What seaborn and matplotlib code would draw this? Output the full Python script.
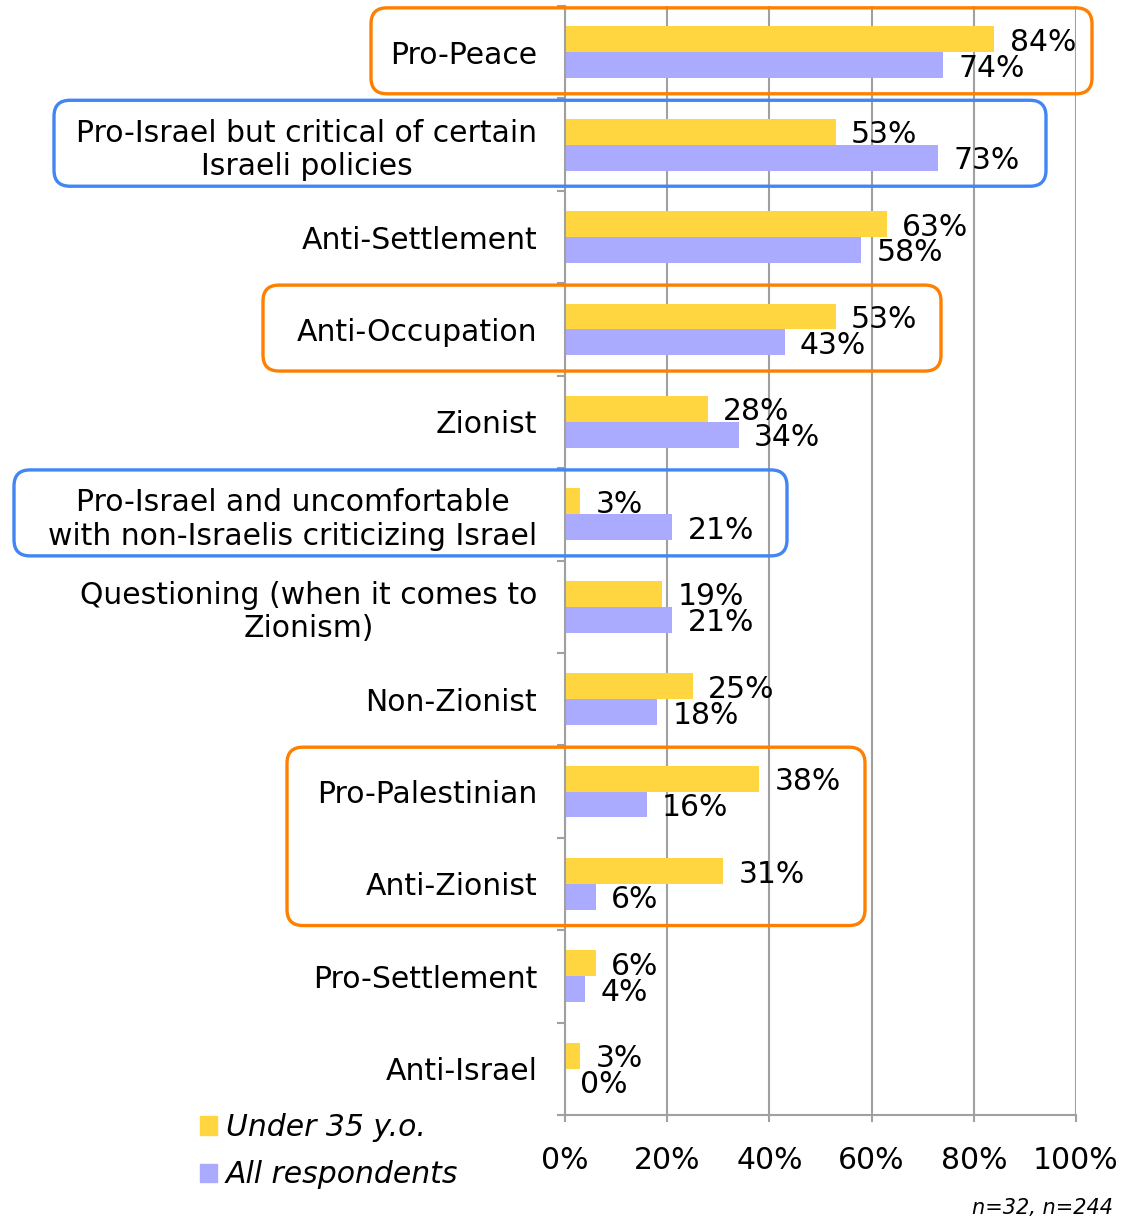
import matplotlib
matplotlib.use("Agg")
import matplotlib.pyplot as plt
import pandas as pd
import seaborn as sns
from matplotlib.patches import FancyBboxPatch, Patch

categories = [
    "Pro-Peace",
    "Pro-Israel but critical of certain\nIsraeli policies",
    "Anti-Settlement",
    "Anti-Occupation",
    "Zionist",
    "Pro-Israel and uncomfortable\nwith non-Israelis criticizing Israel",
    "Questioning (when it comes to\nZionism)",
    "Non-Zionist",
    "Pro-Palestinian",
    "Anti-Zionist",
    "Pro-Settlement",
    "Anti-Israel",
]
under35 = [84, 53, 63, 53, 28, 3, 19, 25, 38, 31, 6, 3]
all_resp = [74, 73, 58, 43, 34, 21, 21, 18, 16, 6, 4, 0]
series = ["Under 35 y.o.", "All respondents"]
colors = {"Under 35 y.o.": "#FFD540", "All respondents": "#AAAAFF"}
ticks = [0, 20, 40, 60, 80, 100]

# highlight boxes: first cat, last cat, left px, right px, colour
boxes = [
    (0, 0, 371, 1092, "#FF7F00"),
    (1, 1, 54, 1046, "#4285F4"),
    (3, 3, 263, 941, "#FF7F00"),
    (5, 5, 14, 787, "#4285F4"),
    (8, 9, 287, 865, "#FF7F00"),
]

df = pd.DataFrame({
    "cat": categories * 2,
    "series": [series[0]] * len(categories) + [series[1]] * len(categories),
    "value": under35 + all_resp,
})

FS = 21.5
W, H = 1140, 1219
fig = plt.figure(figsize=(W / 100, H / 100), dpi=100)
ax = fig.add_axes([565 / W, (H - 1115) / H, 511 / W, 1109 / H])

sns.barplot(data=df, y="cat", x="value", hue="series", order=categories,
            hue_order=series, palette=colors, orient="h", width=0.56,
            legend=False, ax=ax, saturation=1)

ax.set_xlim(0, 100)
ax.set_ylim(len(categories) - 0.5, -0.5)
ax.set_xlabel("")
ax.set_ylabel("")

ax.set_xticks(ticks)
ax.set_xticklabels([f"{t}%" for t in ticks], fontsize=FS)
ax.tick_params(axis="x", length=5, width=1.5, color="#A0A0A0", pad=17)
ax.xaxis.grid(True, color="#A0A0A0", lw=1.5)
ax.set_axisbelow(True)

ax.set_yticks(range(len(categories)))
ax.set_yticklabels(categories, fontsize=FS, ha="right", multialignment="center")
ax.tick_params(axis="y", length=0, pad=20)
ax.set_yticks([i + 0.5 for i in range(-1, len(categories))], minor=True)
ax.tick_params(axis="y", which="minor", length=6, width=1.5, color="#A0A0A0")

for s in ["top", "right"]:
    ax.spines[s].set_visible(False)
for s in ["left", "bottom"]:
    ax.spines[s].set_color("#A0A0A0")
    ax.spines[s].set_linewidth(1.5)

for cont in ax.containers:
    for t in ax.bar_label(cont, fmt="{:.0f}%", padding=11, fontsize=FS):
        t.set_y(t.get_position()[1])
        t.set_va("center_baseline")

# rounded highlight boxes
for c0, c1, x0, x1, col in boxes:
    ytop = ax.transData.transform((0, c0 - 0.48))[1]
    ybot = ax.transData.transform((0, c1 + 0.45))[1]
    fig.patches.append(FancyBboxPatch(
        (x0, ybot), x1 - x0, ytop - ybot,
        boxstyle="round,pad=0,rounding_size=16", transform=None,
        fill=False, edgecolor=col, lw=2.4, figure=fig))

handles = [Patch(color=colors[s]) for s in series]
fig.legend(handles, series, loc="upper left", bbox_to_anchor=(185 / W, 1 - 1098 / H),
           frameon=False, prop={"size": FS, "style": "italic"},
           handlelength=0.57, handleheight=0.57, handletextpad=0.3,
           labelspacing=0.62, borderpad=0)

fig.text(1113 / W, 1 - 1208 / H, "n=32, n=244", ha="right", va="center",
         fontsize=15, style="italic")

fig.savefig("out.png", dpi=100)
